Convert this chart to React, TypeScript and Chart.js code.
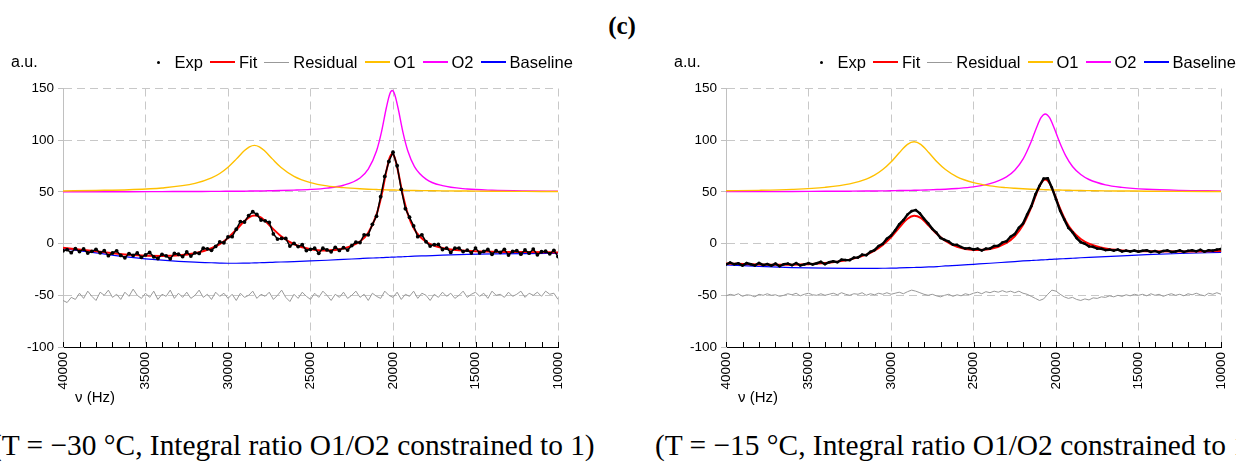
import React, { useEffect, useRef } from "react";
import { Chart, registerables } from "chart.js";

Chart.register(...registerables);

// ---------------- data ----------------
const FREQ = [
  40000, 39750, 39500, 39250, 39000, 38750, 38500, 38250, 38000, 37750,
  37500, 37250, 37000, 36750, 36500, 36250, 36000, 35750, 35500, 35250,
  35000, 34750, 34500, 34250, 34000, 33750, 33500, 33250, 33000, 32750,
  32500, 32250, 32000, 31750, 31500, 31250, 31000, 30750, 30500, 30250,
  30000, 29750, 29500, 29250, 29000, 28750, 28500, 28250, 28000, 27750,
  27500, 27250, 27000, 26750, 26500, 26250, 26000, 25750, 25500, 25250,
  25000, 24750, 24500, 24250, 24000, 23750, 23500, 23250, 23000, 22750,
  22500, 22250, 22000, 21750, 21500, 21250, 21000, 20750, 20500, 20250,
  20000, 19750, 19500, 19250, 19000, 18750, 18500, 18250, 18000, 17750,
  17500, 17250, 17000, 16750, 16500, 16250, 16000, 15750, 15500, 15250,
  15000, 14750, 14500, 14250, 14000, 13750, 13500, 13250, 13000, 12750,
  12500, 12250, 12000, 11750, 11500, 11250, 11000, 10750, 10500, 10250,
  10000,
];

// Left panel (T = -30 °C)
const LEFT_EXP = [
  -6.9, -5.9, -8.8, -4.8, -7.7, -5.2, -9.1, -7.5, -5.5, -8.9,
  -6.8, -11.7, -9.1, -7.0, -11.4, -13.8, -9.6, -11.4, -9.1, -13.3,
  -11.0, -8.6, -12.8, -14.4, -10.4, -11.8, -14.7, -9.5, -10.3, -12.5,
  -8.1, -12.1, -8.9, -9.5, -4.4, -5.1, -6.5, -2.7, 1.6, 0.8,
  6.5, 6.7, 13.9, 21.3, 20.9, 27.1, 30.8, 28.2, 22.8, 22.0,
  20.5, 9.4, 4.4, 5.0, 5.0, -2.4, 0.3, -2.9, -1.1, -6.7,
  -5.5, -4.5, -9.4, -4.5, -6.1, -7.9, -3.6, -6.6, -3.9, -6.3,
  -1.9, 1.4, 1.0, 8.5, 8.5, 18.6, 26.5, 45.3, 65.0, 79.4,
  88.4, 75.3, 52.5, 33.8, 25.5, 17.1, 6.7, 8.5, 1.8, -2.4,
  -1.0, -0.8, -5.7, -4.4, -8.5, -4.4, -4.3, -7.7, -6.4, -9.1,
  -4.3, -9.0, -7.6, -5.7, -10.3, -6.9, -8.5, -5.5, -11.1, -7.6,
  -6.7, -10.2, -6.2, -9.3, -5.3, -10.8, -7.9, -7.4, -9.9, -6.5,
  -12.5,
];
const LEFT_RESIDUAL = [
  -55, -57, -52, -54, -48, -53, -46, -51, -55, -47,
  -50, -45, -52, -49, -54, -47, -51, -44, -50, -53,
  -48, -52, -46, -54, -49, -51, -45, -53, -48, -52,
  -47, -53, -50, -45, -52, -49, -54, -47, -51, -48,
  -53, -49, -55, -48, -52, -50, -46, -53, -49, -51,
  -47, -54, -50, -45, -52, -56, -49, -53, -47, -51,
  -54, -48, -52, -46, -50, -55, -49, -52, -47, -53,
  -50, -46, -52, -49, -55, -48, -51, -53, -46, -50,
  -52, -47, -54, -49, -51, -46, -53, -48, -50, -55,
  -49, -52, -47, -51, -48, -53, -50, -46, -52, -49,
  -47, -51, -48, -53, -46, -50, -49, -52, -47, -51,
  -49, -46, -52, -48, -50, -47, -51, -46, -49, -48,
  -54,
];
const LEFT_CURVE_FREQ = [
  40000, 38000, 36000, 34000, 32000, 31000, 30500, 30000, 29500, 29000,
  28700, 28400, 28100, 27800, 27300, 26800, 26000, 25000, 24000, 23000,
  22000, 21500, 21000, 20700, 20400, 20200, 20050, 19900, 19700, 19400,
  19100, 18700, 18000, 17000, 15500, 14000, 12000, 10000,
];
const LEFT_FIT = [
  -4.0, -7.4, -10.7, -11.9, -9.4, -4.5, -0.5, 5.5, 13.4, 21.8,
  25.6, 27.1, 26.0, 22.6, 14.7, 7.4, -0.6, -5.4, -6.6, -4.8,
  2.0, 10.5, 28.0, 46.3, 70.2, 83.2, 86.7, 83.3, 70.4, 46.7,
  28.5, 13.6, 1.8, -4.2, -6.9, -7.8, -8.2, -8.5,
];
const LEFT_O1 = [
  50.9, 51.4, 52.1, 53.8, 58.2, 63.5, 67.8, 73.9, 81.7, 90.0,
  93.6, 95.0, 93.6, 90.0, 81.7, 73.9, 65.1, 59.0, 55.8, 54.1,
  53.0, 52.6, 52.3, 52.1, 52.0, 51.9, 51.8, 51.8, 51.7, 51.6,
  51.5, 51.3, 51.2, 51.0, 50.8, 50.6, 50.5, 50.4,
];
const LEFT_O2 = [
  50.1, 50.2, 50.2, 50.3, 50.4, 50.5, 50.5, 50.6, 50.7, 50.7,
  50.8, 50.8, 50.9, 51.0, 51.1, 51.3, 51.7, 52.4, 53.7, 56.4,
  63.5, 72.0, 89.5, 107.8, 131.6, 144.5, 148.0, 144.5, 131.6, 107.8,
  89.5, 74.5, 62.4, 56.0, 52.8, 51.6, 50.9, 50.6,
];
const LEFT_BASELINE = [
  -5.0, -9.0, -13.0, -16.0, -18.0, -18.5, -18.8, -19.0, -19.0, -18.9,
  -18.8, -18.7, -18.5, -18.4, -18.1, -17.8, -17.4, -16.8, -16.1, -15.3,
  -14.5, -14.1, -13.8, -13.6, -13.4, -13.2, -13.1, -13.0, -12.9, -12.7,
  -12.5, -12.2, -11.8, -11.2, -10.5, -10.0, -9.6, -9.5,
];

// Right panel (T = -15 °C)
const RIGHT_EXP = [
  -20.2, -18.4, -20.0, -19.1, -21.2, -18.9, -20.0, -21.1, -18.7, -20.8,
  -19.8, -21.3, -19.4, -21.9, -19.9, -19.4, -20.9, -18.8, -21.2, -20.1,
  -18.9, -20.2, -19.0, -17.7, -19.9, -18.0, -17.1, -18.0, -15.5, -15.8,
  -16.0, -13.6, -13.5, -10.7, -11.2, -7.9, -6.3, -2.3, -0.3, 4.7,
  7.7, 12.8, 18.6, 22.7, 28.1, 31.4, 32.4, 29.2, 24.1, 19.6,
  14.3, 10.7, 5.5, 3.7, 2.1, -1.0, -1.2, -3.3, -4.8, -4.4,
  -5.7, -4.9, -6.7, -4.9, -4.7, -2.3, -2.1, 1.1, 2.3, 6.6,
  9.2, 15.4, 19.4, 28.1, 36.1, 47.6, 56.0, 62.8, 63.2, 54.1,
  43.0, 31.7, 23.4, 15.2, 11.0, 5.3, 1.4, -0.2, -2.7, -3.2,
  -4.9, -5.0, -6.3, -5.9, -6.8, -5.8, -7.6, -6.8, -7.6, -6.7,
  -7.9, -6.9, -6.5, -8.1, -7.1, -8.6, -7.1, -6.6, -8.1, -7.6,
  -6.6, -8.1, -7.0, -6.5, -7.5, -5.9, -7.9, -6.4, -6.8, -5.8,
  -5.2,
];
const RIGHT_RESIDUAL = [
  -50.5, -49, -50, -48.5, -51, -49.5, -50, -51.5, -49, -50,
  -48.5, -50, -49.5, -51, -50, -48.5, -49.5, -48, -50.5, -49,
  -48, -49.5, -50, -48.5, -50, -49, -48, -49.5, -47.5, -49,
  -50, -48.5, -49, -47.5, -50, -48.5, -49.5, -48, -49, -47.5,
  -49, -48, -47, -48.5, -46.5, -45, -46, -47.5, -49, -50,
  -49, -50.5, -51.5, -50, -49, -51, -49.5, -50.5, -48.5, -49.5,
  -48, -47, -48.5, -46.5, -47.5, -46, -47, -45.5, -47, -46,
  -47.5, -46, -48, -49, -51, -53, -55, -53.5, -49, -45,
  -46, -49, -51.5, -53, -52, -54, -55, -53.5, -54.5, -52.5,
  -53, -51.5, -52, -50.5, -51.5, -50, -51, -49.5, -50.5, -49,
  -50, -49, -50.5, -48.5, -50, -49, -51, -49.5, -48.5, -50,
  -49, -50.5, -48.5, -49.5, -48, -49.5, -50.5, -48, -49, -47.5,
  -49,
];
const RIGHT_CURVE_FREQ = [
  40000, 38000, 36000, 34000, 32500, 31500, 31000, 30500, 30000, 29500,
  29000, 28600, 28200, 27700, 27200, 26700, 26000, 25000, 24000, 23000,
  22500, 22000, 21500, 21200, 20900, 20650, 20400, 20100, 19800, 19400,
  19000, 18500, 18000, 17000, 16000, 14500, 12500, 10000,
];
const RIGHT_FIT = [
  -19.2, -20.2, -20.4, -18.85, -15.5, -10.7, -6.8, -1.25, 6.2, 15.6,
  24.1, 26.95, 24.8, 17.25, 8.95, 2.6, -3.2, -6.2, -5.2, 0.8,
  7.15, 17.9, 35.05, 47.7, 58.5, 61.9, 58.65, 48.2, 35.75, 21.7,
  11.95, 4.4, -0.15, -4.75, -6.55, -7.5, -7.6, -7.2,
];
const RIGHT_O1 = [
  51.1, 51.5, 52.4, 54.4, 57.7, 62.4, 66.2, 71.6, 78.9, 87.9,
  96.0, 98.5, 96.0, 87.9, 78.9, 71.6, 64.5, 58.9, 55.8, 54.1,
  53.5, 53.0, 52.6, 52.4, 52.3, 52.1, 52.0, 51.9, 51.8, 51.6,
  51.5, 51.3, 51.2, 51.0, 50.9, 50.7, 50.5, 50.4,
];
const RIGHT_O2 = [
  50.3, 50.3, 50.4, 50.6, 50.7, 50.8, 50.9, 51.0, 51.1, 51.3,
  51.4, 51.6, 51.7, 52.0, 52.3, 52.6, 53.3, 54.9, 58.0, 64.6,
  71.0, 81.7, 98.8, 111.4, 122.0, 125.4, 122.0, 111.4, 98.8, 84.6,
  74.6, 66.8, 62.0, 56.8, 54.4, 52.6, 51.5, 50.9,
];
const RIGHT_BASELINE = [
  -20.5, -22.0, -23.2, -23.8, -23.95, -23.95, -23.9, -23.85, -23.8, -23.55,
  -23.3, -23.1, -22.9, -22.6, -22.2, -21.6, -21.0, -20.0, -19.0, -17.9,
  -17.35, -16.8, -16.35, -16.1, -15.8, -15.6, -15.35, -15.1, -14.8, -14.5,
  -14.15, -13.7, -13.3, -12.55, -11.8, -10.75, -9.55, -8.5,
];

const X_TICKS = [40000, 35000, 30000, 25000, 20000, 15000, 10000];
const X_MINOR_TICKS = [
  10000, 11000, 12000, 13000, 14000, 15000, 16000, 17000, 18000, 19000,
  20000, 21000, 22000, 23000, 24000, 25000, 26000, 27000, 28000, 29000,
  30000, 31000, 32000, 33000, 34000, 35000, 36000, 37000, 38000, 39000,
  40000,
];
const Y_TICKS = [-100, -50, 0, 50, 100, 150];

const SERIES_NAMES = ["Exp", "Fit", "Residual", "O1", "O2", "Baseline"];
const SERIES_COLORS = ["#000000", "#ff0000", "#999999", "#ffc000", "#ff00ff", "#0000ff"];

const TITLE = "(c)";
const Y_UNIT = "a.u.";
const X_UNIT = "\u03bd (Hz)";
const LEFT_CAPTION = "(T = \u221230 \u00b0C, Integral ratio O1/O2 constrained to 1)";
const RIGHT_CAPTION = "(T = \u221215 \u00b0C, Integral ratio O1/O2 constrained to 1)";

// ---------------- chart ----------------
const SANS = '"Liberation Sans", Arial, sans-serif';
const SERIF = '"Liberation Serif", "Times New Roman", serif';
Chart.defaults.font.family = SANS;

const CANVAS_W = 568;
const CANVAS_H = 327;
const CANVAS_TOP = 70;

const minorTicksPlugin = {
  id: "minorTicks",
  afterDraw(chart: any) {
    const { ctx, chartArea } = chart;
    const x = chart.scales.x;
    ctx.save();
    ctx.strokeStyle = "#000";
    ctx.lineWidth = 1;
    for (const v of X_MINOR_TICKS) {
      const px = Math.round(x.getPixelForValue(v)) + 0.5;
      ctx.beginPath();
      ctx.moveTo(px, Math.round(chartArea.bottom));
      ctx.lineTo(px, Math.round(chartArea.bottom) - 5);
      ctx.stroke();
    }
    ctx.restore();
  },
};

type PanelProps = {
  left: number;
  exp: number[];
  residual: number[];
  curveFreq: number[];
  fit: number[];
  o1: number[];
  o2: number[];
  baseline: number[];
  dense: boolean;
};

function pts(xs: number[], ys: number[]) {
  return xs.map((x, i) => ({ x, y: ys[i] }));
}

function Panel(p: PanelProps) {
  const ref = useRef<HTMLCanvasElement | null>(null);

  useEffect(() => {
    if (!ref.current) return;
    const smooth = { pointRadius: 0, cubicInterpolationMode: "monotone" as const, fill: false };
    const chart = new Chart(ref.current, {
      type: "line",
      data: {
        datasets: [
          {
            label: SERIES_NAMES[0],
            data: pts(FREQ, p.exp),
            borderColor: SERIES_COLORS[0],
            backgroundColor: SERIES_COLORS[0],
            borderWidth: p.dense ? 2.4 : 1.5,
            pointRadius: p.dense ? 1.3 : 1.9,
            pointBorderWidth: 0,
            tension: 0,
            fill: false,
          },
          { label: SERIES_NAMES[1], data: pts(p.curveFreq, p.fit), borderColor: SERIES_COLORS[1], borderWidth: 2, ...smooth },
          { label: SERIES_NAMES[2], data: pts(FREQ, p.residual), borderColor: SERIES_COLORS[2], borderWidth: 1, pointRadius: 0, tension: 0, fill: false },
          { label: SERIES_NAMES[3], data: pts(p.curveFreq, p.o1), borderColor: SERIES_COLORS[3], borderWidth: 1.4, ...smooth },
          { label: SERIES_NAMES[4], data: pts(p.curveFreq, p.o2), borderColor: SERIES_COLORS[4], borderWidth: 1.4, ...smooth },
          { label: SERIES_NAMES[5], data: pts(p.curveFreq, p.baseline), borderColor: SERIES_COLORS[5], borderWidth: 1.2, ...smooth },
        ],
      },
      options: {
        animation: false,
        responsive: false,
        events: [],
        layout: { padding: { left: 0, right: 10, top: 18.5, bottom: 0 } },
        plugins: { legend: { display: false }, tooltip: { enabled: false } },
        scales: {
          x: {
            type: "linear",
            reverse: true,
            min: 10000,
            max: 40000,
            afterBuildTicks: (s: any) => {
              s.ticks = X_TICKS.map((v) => ({ value: v }));
            },
            afterFit: (s: any) => {
              s.height = 50;
              s.paddingLeft = 0;
              s.paddingRight = 0;
            },
            ticks: {
              autoSkip: false,
              minRotation: 90,
              maxRotation: 90,
              padding: 5,
              color: "#000",
              font: { size: 13.5 },
              callback: (v: any) => String(v),
            },
            grid: { color: "#c8c8c8", lineWidth: 1, drawTicks: false },
            border: { color: "#000", width: 1, dash: [8, 5] },
          },
          y: {
            min: -100,
            max: 150,
            afterBuildTicks: (s: any) => {
              s.ticks = Y_TICKS.map((v) => ({ value: v }));
            },
            afterFit: (s: any) => {
              s.width = 63;
              s.paddingTop = 0;
              s.paddingBottom = 0;
            },
            ticks: { color: "#000", font: { size: 13.5 }, padding: 4 },
            grid: { color: "#c8c8c8", lineWidth: 1, drawTicks: true, tickLength: 5, tickColor: "#c0c0c0" },
            border: { color: "#c0c0c0", width: 1, dash: [8, 5] },
          },
        },
      },
      plugins: [minorTicksPlugin],
    } as any);
    return () => chart.destroy();
  }, []);

  const lineH = [0, 2, 1, 1.5, 1.5, 1.5];

  return (
    <>
      <canvas
        ref={ref}
        width={CANVAS_W}
        height={CANVAS_H}
        style={{ position: "absolute", left: p.left, top: CANVAS_TOP, width: CANVAS_W, height: CANVAS_H }}
      />
      <div
        style={{
          position: "absolute",
          left: p.left + 11,
          top: 52,
          lineHeight: "20px",
          fontFamily: SANS,
          fontSize: 16,
          color: "#000",
          whiteSpace: "nowrap",
        }}
      >
        {Y_UNIT}
      </div>
      <div
        style={{
          position: "absolute",
          left: p.left + 145.5,
          top: 52,
          height: 20,
          display: "flex",
          alignItems: "center",
          fontFamily: SANS,
          fontSize: 16.5,
          color: "#000",
          whiteSpace: "nowrap",
        }}
      >
        {SERIES_NAMES.map((name, i) => (
          <div key={name} style={{ display: "flex", alignItems: "center", marginRight: i < SERIES_NAMES.length - 1 ? 7 : 0 }}>
            <span style={{ position: "relative", display: "inline-block", width: 25, height: 20, marginRight: 4 }}>
              {i === 0 ? (
                <span
                  style={{
                    position: "absolute",
                    left: 11,
                    top: 9,
                    width: 3,
                    height: 3,
                    borderRadius: "50%",
                    background: SERIES_COLORS[0],
                  }}
                />
              ) : (
                <span
                  style={{
                    position: "absolute",
                    left: 0,
                    top: 10 - lineH[i] / 2,
                    width: 25,
                    height: lineH[i],
                    background: SERIES_COLORS[i],
                  }}
                />
              )}
            </span>
            <span style={{ lineHeight: "20px" }}>{name}</span>
          </div>
        ))}
      </div>
      <div
        style={{
          position: "absolute",
          left: p.left + 75,
          top: 388,
          lineHeight: "18px",
          fontFamily: SANS,
          fontSize: 15,
          color: "#000",
          whiteSpace: "nowrap",
        }}
      >
        {X_UNIT}
      </div>
    </>
  );
}

export default function App() {
  return (
    <div
      style={{
        position: "absolute",
        left: 0,
        top: 0,
        width: 1236,
        height: 465,
        overflow: "hidden",
        background: "#fff",
      }}
    >
      <div
        style={{
          position: "absolute",
          left: 0,
          top: 12,
          width: 1244,
          textAlign: "center",
          fontFamily: SERIF,
          fontWeight: "bold",
          fontSize: 25,
          lineHeight: "28px",
          color: "#000",
        }}
      >
        {TITLE}
      </div>
      <Panel
        left={0}
        exp={LEFT_EXP}
        residual={LEFT_RESIDUAL}
        curveFreq={LEFT_CURVE_FREQ}
        fit={LEFT_FIT}
        o1={LEFT_O1}
        o2={LEFT_O2}
        baseline={LEFT_BASELINE}
        dense={false}
      />
      <Panel
        left={663}
        exp={RIGHT_EXP}
        residual={RIGHT_RESIDUAL}
        curveFreq={RIGHT_CURVE_FREQ}
        fit={RIGHT_FIT}
        o1={RIGHT_O1}
        o2={RIGHT_O2}
        baseline={RIGHT_BASELINE}
        dense={true}
      />
      <div
        style={{
          position: "absolute",
          left: -8,
          top: 431,
          fontFamily: SERIF,
          fontSize: 29.4,
          lineHeight: "29px",
          color: "#000",
          whiteSpace: "nowrap",
        }}
      >
        {LEFT_CAPTION}
      </div>
      <div
        style={{
          position: "absolute",
          left: 655,
          top: 431,
          fontFamily: SERIF,
          fontSize: 29.4,
          lineHeight: "29px",
          color: "#000",
          whiteSpace: "nowrap",
        }}
      >
        {RIGHT_CAPTION}
      </div>
    </div>
  );
}
